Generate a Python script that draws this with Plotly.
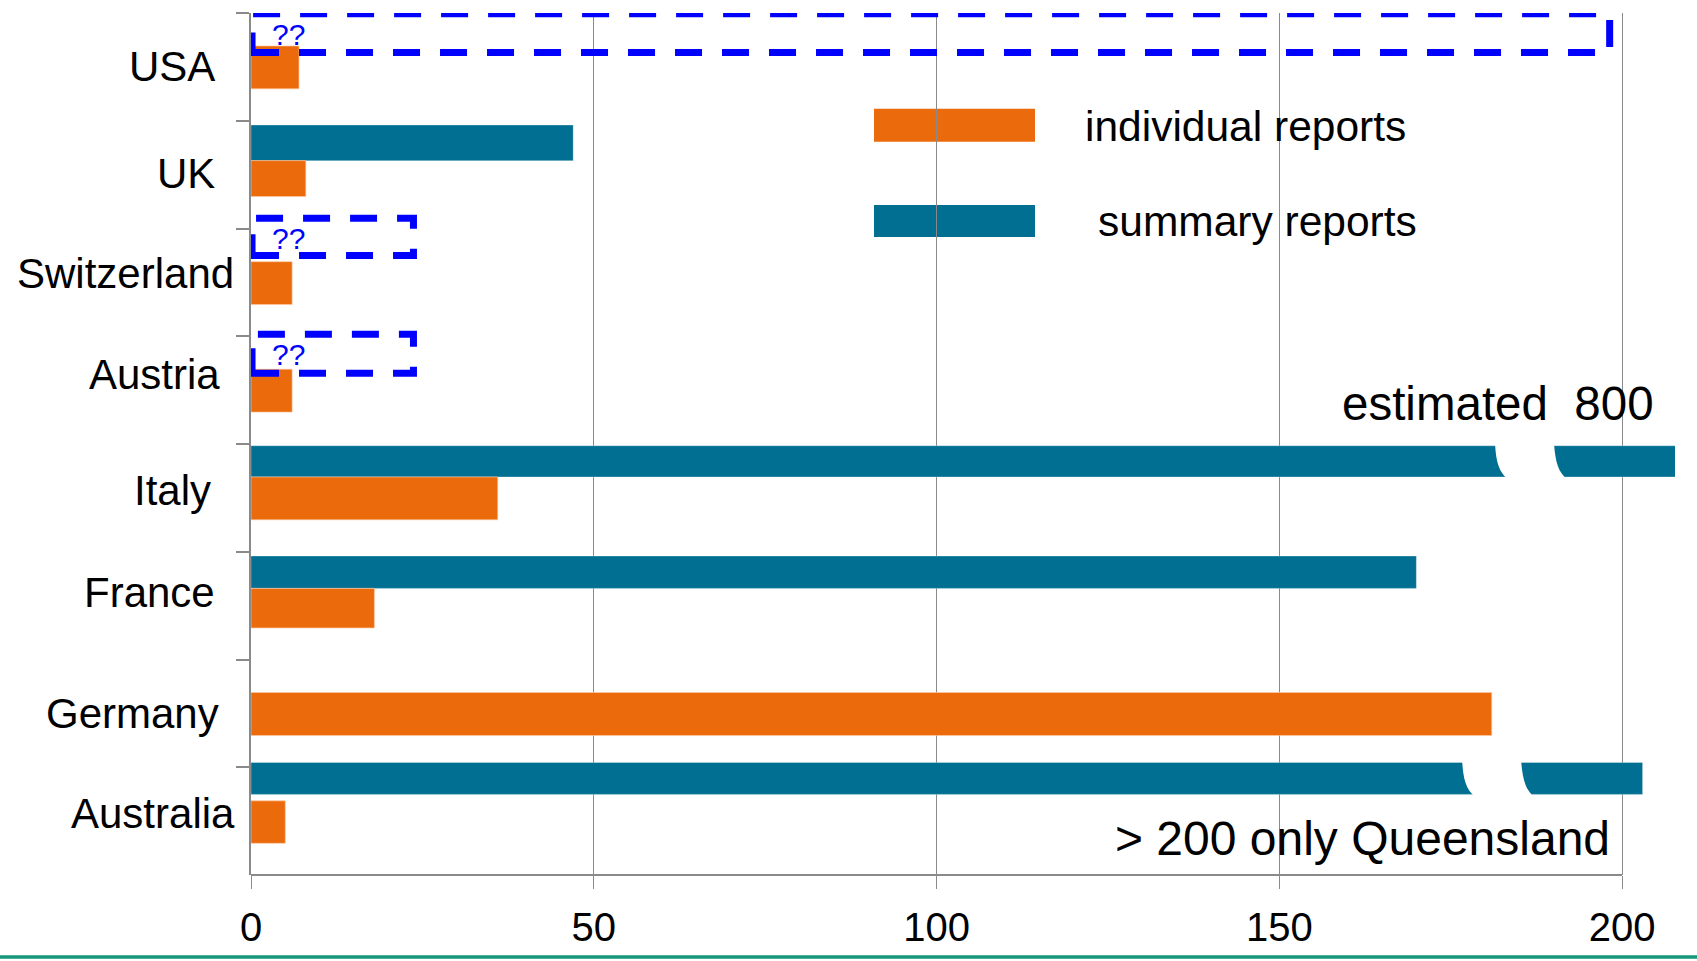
import plotly.graph_objects as go

# ---- data -------------------------------------------------------------
countries = ["USA", "UK", "Switzerland", "Austria", "Italy", "France", "Germany", "Australia"]
individual_reports = [7, 8, 6, 6, 36, 18, 181, 5]
summary_reports = [None, 47, None, None, 800, 170, None, 203]
x_tick_values = [0, 50, 100, 150, 200]
unknown_summary = ["USA", "Switzerland", "Austria"]

# ---- geometry / styles -------------------------------------------------
W, H = 1697, 961
ML, MR, MT, MB = 251, 22, 13, 84
PLOT_W = W - ML - MR
PLOT_H = H - MT - MB
X_MAX = 207.73
PX_X = PLOT_W / X_MAX          # pixels per report
PX_Y = PLOT_H / len(countries)  # pixels per category

ORANGE = "#EA6A0C"
TEAL = "#006F92"
GREY = "#8A8A8A"
BLUE = "#0000FF"
FONT = "Liberation Sans, Arial, sans-serif"

# bar placement inside each category band (category units)
summary_offset = [0, -0.460, 0, 0, -0.484, -0.460, 0, -0.544]
summary_width = [0.3, 0.331, 0.3, 0.3, 0.290, 0.300, 0.3, 0.296]
individual_offset = [-0.194, -0.130, -0.192, -0.194, -0.194, -0.160, -0.194, -0.188]
individual_width = [0.398, 0.333, 0.398, 0.398, 0.398, 0.367, 0.400, 0.394]

# category label nudges (px): right edge relative to axis, vertical lift
label_dx = [-34.5, -34.5, -15, -29.5, -38.5, -34, -30.5, -14.5]
label_dy = [0, 1, 9, 16, 7, 13, 0, 8]

# where the long summary bars are drawn broken (x value at gap centre)
bar_breaks = {"Italy": 185.8, "Australia": 181.0}

# dashed placeholder frames: right end (x value), top / bottom (category units)
frame_right = {"USA": 198.2, "Switzerland": 23.7, "Austria": 23.7}
frame_top = {"USA": -0.494, "Switzerland": -0.595, "Austria": -0.519}
frame_bottom = {"USA": -0.134, "Switzerland": -0.250, "Austria": -0.157}


def px_x(px):
    return (px - ML) / PLOT_W


def px_y(py):
    return (H - MB - py) / PLOT_H


fig = go.Figure()

fig.add_trace(go.Bar(
    y=countries, x=summary_reports, orientation="h", name="summary reports",
    offset=summary_offset, width=summary_width,
    marker=dict(color=TEAL, line=dict(color="rgba(255,255,255,0.5)", width=0.6)),
    showlegend=False,
))
fig.add_trace(go.Bar(
    y=countries, x=individual_reports, orientation="h", name="individual reports",
    offset=individual_offset, width=individual_width,
    marker=dict(color=ORANGE, line=dict(color="rgba(255,200,160,0.8)", width=0.8)),
    showlegend=False,
))

shapes = []

# x axis baseline, only up to the last tick
shapes.append(dict(type="line", xref="x", yref="paper", x0=0, x1=200, y0=0, y1=0,
                   line=dict(color=GREY, width=2.2), layer="above"))

# white gaps marking the axis break in the long bars
for name, cx in bar_breaks.items():
    i = countries.index(name)
    top = i + summary_offset[i]
    h = summary_width[i] * PX_Y

    def P(dx, dy, cx=cx, top=top):
        return f"{cx + dx / PX_X:.4f},{top + dy / PX_Y:.4f}"

    path = (f"M {P(-29.5, -3)} L {P(-29.5, 0)} "
            f"C {P(-28.5, 0.5 * h)} {P(-26, 0.85 * h)} {P(-16, h + 3)} "
            f"L {P(43.5, h + 3)} "
            f"C {P(33, 0.85 * h)} {P(31, 0.5 * h)} {P(29.5, 0)} "
            f"L {P(29.5, -3)} Z")
    shapes.append(dict(type="path", xref="x", yref="y", path=path,
                       fillcolor="white", line=dict(width=0), layer="above"))

# dashed frames for summary figures that are not known
for name in unknown_summary:
    i = countries.index(name)
    shapes.append(dict(type="rect", xref="x", yref="y",
                       x0=0.15, x1=frame_right[name],
                       y0=i + frame_bottom[name], y1=i + frame_top[name],
                       line=dict(color=BLUE, width=7, dash="27px,20px"),
                       layer="above"))

# legend swatches (sit under the grid lines)
shapes.append(dict(type="rect", xref="paper", yref="paper",
                   x0=px_x(874), x1=px_x(1035), y0=px_y(142), y1=px_y(109),
                   fillcolor=ORANGE, line=dict(width=0), layer="below"))
shapes.append(dict(type="rect", xref="paper", yref="paper",
                   x0=px_x(874), x1=px_x(1035), y0=px_y(237.5), y1=px_y(205.5),
                   fillcolor=TEAL, line=dict(width=0), layer="below"))

# green rule along the bottom edge
shapes.append(dict(type="rect", xref="paper", yref="paper",
                   x0=px_x(-5), x1=px_x(W + 5), y0=px_y(961), y1=px_y(957.5),
                   fillcolor="#16977A", line=dict(width=0), layer="above"))

annotations = []

# category labels
for i, name in enumerate(countries):
    annotations.append(dict(text=name, xref="paper", yref="y", x=0, y=name,
                            xanchor="right", yanchor="middle",
                            xshift=label_dx[i], yshift=label_dy[i],
                            showarrow=False, font=dict(family=FONT, size=42, color="black")))

# question marks inside the dashed frames
for name in unknown_summary:
    i = countries.index(name)
    annotations.append(dict(text="??", xref="x", yref="y", x=2.8,
                            y=i + frame_top[name] + 0.19,
                            xanchor="left", yanchor="middle", showarrow=False,
                            font=dict(family=FONT, size=30, color=BLUE)))

# legend texts
annotations.append(dict(text="individual reports", xref="paper", yref="paper",
                        x=px_x(1083), y=px_y(127), xanchor="left", yanchor="middle",
                        showarrow=False, font=dict(family=FONT, size=42.5, color="black")))
annotations.append(dict(text="summary reports", xref="paper", yref="paper",
                        x=px_x(1096), y=px_y(222), xanchor="left", yanchor="middle",
                        showarrow=False, font=dict(family=FONT, size=42.5, color="black")))

# notes on the broken bars
annotations.append(dict(text="estimated\u00a0 800", xref="paper", yref="paper",
                        x=px_x(1656), y=px_y(404), xanchor="right", yanchor="middle",
                        showarrow=False, font=dict(family=FONT, size=47.5, color="black")))
annotations.append(dict(text="> 200 only Queensland", xref="paper", yref="paper",
                        x=px_x(1612), y=px_y(840), xanchor="right", yanchor="middle",
                        showarrow=False, font=dict(family=FONT, size=48, color="black")))

fig.update_layout(
    width=W, height=H,
    margin=dict(l=ML, r=MR, t=MT, b=MB, pad=0),
    paper_bgcolor="white", plot_bgcolor="white",
    barmode="overlay",
    showlegend=False,
    font=dict(family=FONT, size=40, color="black"),
    shapes=shapes,
    annotations=annotations,
    xaxis=dict(
        range=[0, X_MAX], tickvals=x_tick_values, ticktext=[str(v) for v in x_tick_values],
        showgrid=True, gridcolor=GREY, gridwidth=1, zeroline=False,
        showline=False, ticks="outside", ticklen=13, tickwidth=1.2, tickcolor=GREY,
        ticklabelstandoff=4,
        tickfont=dict(family=FONT, size=40, color="black"),
    ),
    yaxis=dict(
        type="category", categoryorder="array", categoryarray=countries,
        range=[len(countries) - 0.5, -0.5],
        showgrid=False, zeroline=False, showticklabels=False,
        showline=True, linecolor=GREY, linewidth=2,
        ticks="outside", ticklen=13, tickwidth=1.5, tickcolor=GREY, tickson="boundaries",
    ),
)

fig.write_html("out.html")
